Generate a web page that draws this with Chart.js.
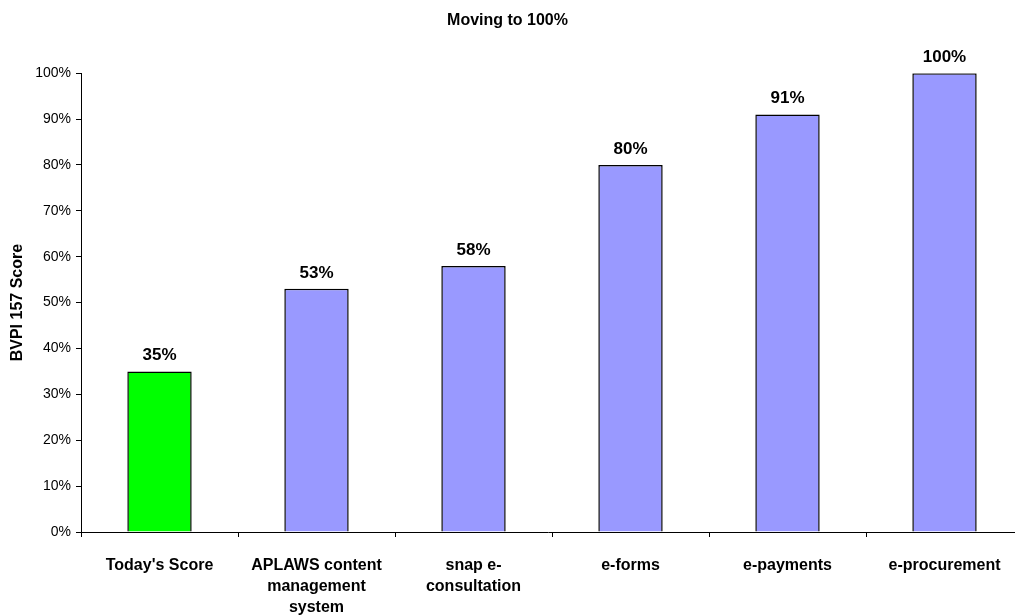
<!DOCTYPE html>
<html>
<head>
<meta charset="utf-8">
<script src="https://cdn.jsdelivr.net/npm/chart.js@4/dist/chart.umd.min.js"></script>
<style>
  html, body { margin: 0; padding: 0; background: #fff; }
  #wrap { width: 1015px; height: 615px; }
</style>
</head>
<body>
<div id="wrap"><canvas id="chart" width="1015" height="615"></canvas></div>
<script>
// Data
const categories = [
    "Today's Score",
    ['APLAWS content', 'management', 'system'],
    ['snap e-', 'consultation'],
    'e-forms',
    'e-payments',
    'e-procurement'
];
const scores = [35, 53, 58, 80, 91, 100];
const barColors = ['#00ff00', '#9999ff', '#9999ff', '#9999ff', '#9999ff', '#9999ff'];
const yTicks = [0, 10, 20, 30, 40, 50, 60, 70, 80, 90, 100];

const FONT = "'Liberation Sans', Arial, sans-serif";

// The original plot area runs a little past the right edge of the picture
const stretchX = {
    id: 'stretchX',
    afterLayout(chart) {
        const x = chart.scales.x;
        x.right = 1023;
        x.width = x.right - x.left;
        x.configure();
    }
};

// Bold value labels above each bar
const valueLabels = {
    id: 'valueLabels',
    afterDatasetsDraw(chart) {
        const ctx = chart.ctx;
        const meta = chart.getDatasetMeta(0);
        ctx.save();
        ctx.font = 'bold 17px ' + FONT;
        ctx.fillStyle = '#000';
        ctx.textAlign = 'center';
        ctx.textBaseline = 'alphabetic';
        meta.data.forEach((bar, i) => {
            ctx.fillText(scores[i] + '%', bar.x, bar.y - 11);
        });
        ctx.restore();
    }
};

new Chart(document.getElementById('chart'), {
    type: 'bar',
    data: {
        labels: categories,
        datasets: [{
            data: scores,
            backgroundColor: barColors,
            borderColor: '#000',
            borderWidth: 1.5,
            barPercentage: 0.41,
            categoryPercentage: 1
        }]
    },
    options: {
        responsive: false,
        animation: false,
        layout: { padding: 0 },
        plugins: {
            legend: { display: false },
            tooltip: { enabled: false },
            title: {
                display: true,
                text: 'Moving to 100%',
                color: '#000',
                font: { family: FONT, size: 16, weight: 'bold', lineHeight: 1.2 },
                padding: { top: 11, bottom: 43 }
            }
        },
        scales: {
            y: {
                min: 0,
                max: 100,
                afterBuildTicks: (scale) => { scale.ticks = yTicks.map(v => ({ value: v })); },
                afterFit: (scale) => { scale.width = 81; },
                ticks: {
                    color: '#000',
                    padding: 5,
                    font: { family: FONT, size: 14 },
                    callback: (v) => v + '%'
                },
                grid: { drawOnChartArea: false, drawTicks: true, tickLength: 5, color: '#000' },
                border: { display: true, color: '#000', width: 1 },
                title: {
                    display: true,
                    text: 'BVPI 157 Score',
                    color: '#000',
                    font: { family: FONT, size: 16, weight: 'bold', lineHeight: 1.2 },
                    padding: { top: 8, bottom: 0 }
                }
            },
            x: {
                afterFit: (scale) => { scale.height = 83; },
                ticks: {
                    color: '#000',
                    padding: 18,
                    maxRotation: 0,
                    autoSkip: false,
                    font: { family: FONT, size: 16, weight: 'bold', lineHeight: 1.32 }
                },
                grid: { offset: true, drawOnChartArea: false, drawTicks: true, tickLength: 5, color: '#000' },
                border: { display: true, color: '#000', width: 1 }
            }
        }
    },
    plugins: [stretchX, valueLabels]
});
</script>
</body>
</html>
